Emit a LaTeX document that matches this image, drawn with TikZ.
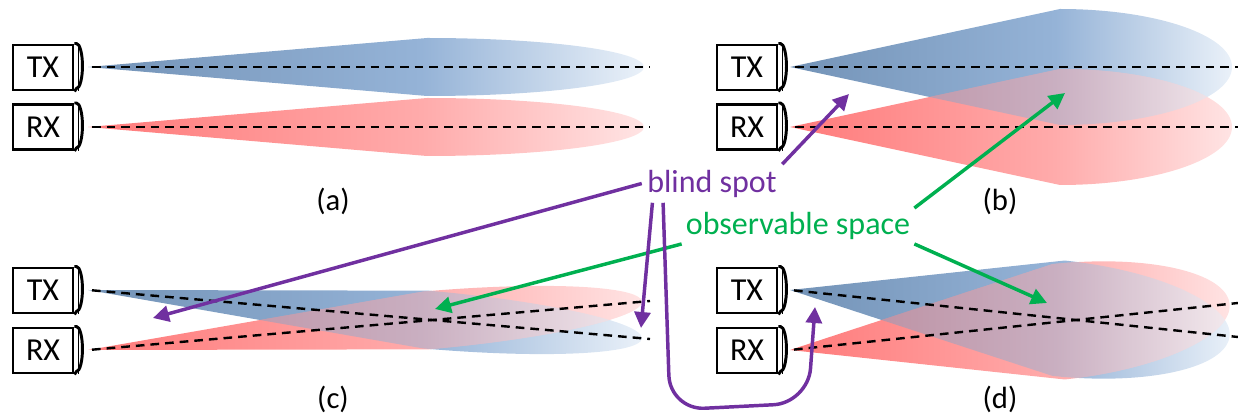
\documentclass[tikz,border=0pt]{standalone}
\usepackage{fontspec}
\setmainfont{Carlito}
\usetikzlibrary{arrows.meta}

\definecolor{txBlueDark}{HTML}{7393B7}
\definecolor{txBlue}{HTML}{95B3D7}
\definecolor{txBlueLight}{HTML}{EAF1F9}
\definecolor{rxRedDark}{HTML}{FF7A7A}
\definecolor{rxRed}{HTML}{FFABAB}
\definecolor{rxRedLight}{HTML}{FFE4E4}
\definecolor{spotPurple}{HTML}{7030A0}
\definecolor{spaceGreen}{HTML}{00B050}

\pgfdeclarehorizontalshading{txbeam}{100bp}{color(0bp)=(txBlueDark); color(25bp)=(txBlueDark); color(55bp)=(txBlue); color(75bp)=(txBlueLight); color(100bp)=(txBlueLight)}
\pgfdeclarehorizontalshading{rxbeam}{100bp}{color(0bp)=(rxRedDark); color(25bp)=(rxRedDark); color(55bp)=(rxRed); color(75bp)=(rxRedLight); color(100bp)=(rxRedLight)}

% beam outlines, apex at the origin, pointing along +x
\newcommand{\narrowbeam}{(0,0) -- (339,-29) arc[start angle=-90,end angle=90,x radius=217,y radius=29] -- cycle}
\newcommand{\widebeam}{(0,0) -- (270,-58) arc[start angle=-90,end angle=90,x radius=172,y radius=58] -- cycle}

\begin{document}
\begin{tikzpicture}[x=0.75pt,y=0.75pt,yscale=-1,xscale=1,
    unit/.style={draw,line width=2.2pt,minimum width=45pt,minimum height=33.75pt,inner sep=0pt,font=\fontsize{24}{28}\selectfont},
    beamaxis/.style={line width=1.8pt,dash pattern=on 6.5pt off 4.5pt},
    txshade/.style={shading=txbeam},
    rxshade/.style={shading=rxbeam},
    caption/.style={font=\fontsize{23}{27}\selectfont},
    spotarrow/.style={draw=spotPurple,line width=2.6pt,-{Triangle[length=12pt,width=12pt]}},
    spacearrow/.style={draw=spaceGreen,line width=2.6pt,-{Triangle[length=12pt,width=12pt]}}]
\useasboundingbox (0,0) rectangle (1238,416);

%Beams (a)
\shade[txshade,shift={(88,67)}] \narrowbeam;
\shade[rxshade,shift={(88,127)}] \narrowbeam;
\draw[beamaxis] (92,67) -- (650,67);
\draw[beamaxis] (92,127) -- (650,127);

%Beams (b)
\shade[txshade,shift={(790,67)}] \widebeam;
\shade[rxshade,shift={(790,127)}] \widebeam;
\begin{scope}
\clip[shift={(790,127)}] \widebeam;
\shade[txshade,opacity=0.5,shift={(790,67)}] \widebeam;
\end{scope}
\draw[beamaxis] (795,67) -- (1238,67);
\draw[beamaxis] (795,127) -- (1238,127);

%Beams (c)
\shade[txshade,shift={(88,290)},rotate=5] \narrowbeam;
\shade[rxshade,shift={(88,350)},rotate=-5] \narrowbeam;
\begin{scope}
\clip[shift={(88,350)},rotate=-5] \narrowbeam;
\shade[txshade,opacity=0.5,shift={(88,290)},rotate=5] \narrowbeam;
\end{scope}
\draw[beamaxis] (92,290.3) -- (650,339);
\draw[beamaxis] (92,349.7) -- (650,301);

%Beams (d)
\shade[txshade,shift={(790,290)},rotate=6] \widebeam;
\shade[rxshade,shift={(790,350)},rotate=-6] \widebeam;
\begin{scope}
\clip[shift={(790,350)},rotate=-6] \widebeam;
\shade[txshade,opacity=0.5,shift={(790,290)},rotate=6] \widebeam;
\end{scope}
\draw[beamaxis] (794,290.4) -- (1238,337);
\draw[beamaxis] (794,349.6) -- (1238,303);

%Shape: TX / RX units
\node[unit] (txa) at (43,67.5) {TX};
\node[unit] (rxa) at (43,127) {RX};
\node[unit] (txb) at (747,67.5) {TX};
\node[unit] (rxb) at (747,127) {RX};
\node[unit] (txc) at (43,290.5) {TX};
\node[unit] (rxc) at (43,350.5) {RX};
\node[unit] (txd) at (747,290.5) {TX};
\node[unit] (rxd) at (747,350.5) {RX};
%Lenses
\foreach \u in {txa,rxa,txb,rxb,txc,rxc,txd,rxd}{
  \draw[line width=2.2pt] (\u.north east) -- ++(2,0) arc[start angle=-90,end angle=90,x radius=6,y radius=22.5] -- (\u.south east);
  \draw[line width=0.8pt] ([xshift=3pt]\u.north east) -- ([xshift=3pt]\u.south east);
}

% Text Node
\node[caption] (capa) at (333,201) {(a)};
\node[caption] (capb) at (1000,201) {(b)};
\node[caption] (capc) at (333,399) {(c)};
\node[caption] (capd) at (1000,399) {(d)};
\node[text=spotPurple,font=\fontsize{24}{28}\selectfont,inner sep=4pt] (blind) at (712,183.5) {blind spot};
\node[text=spaceGreen,font=\fontsize{24}{28}\selectfont,inner sep=3pt] (observable) at (798,226) {observable space};

%Arrow tips
\coordinate (spotB) at (849,94);
\coordinate (spotCa) at (153,318);
\coordinate (spotCb) at (641,328);
\coordinate (spotD) at (815,307);
\coordinate (spaceB) at (1065,93);
\coordinate (spaceC) at (435,309);
\coordinate (spaceD) at (1047,303);

%Straight Lines
\draw[spacearrow] (observable.north east) -- (spaceB);
\draw[spacearrow] (observable.south west) -- (spaceC);
\draw[spacearrow] (observable.south east) -- (spaceD);
\draw[spotarrow] (blind.north east) -- (spotB);
\draw[spotarrow] (blind.west) -- (spotCa);
\draw[spotarrow] ([xshift=8pt]blind.south west) -- (spotCb);
%Curve Lines
\draw[spotarrow,rounded corners=26pt] ([xshift=16pt]blind.south west) -- (670,410) -- (808,403) -- (spotD);
\end{tikzpicture}
\end{document}
